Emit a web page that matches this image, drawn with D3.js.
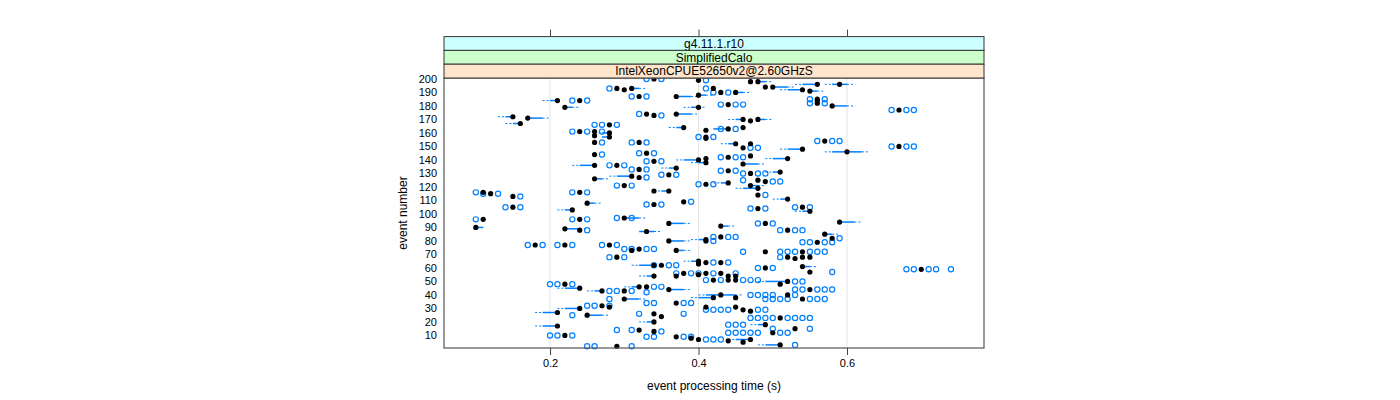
<!DOCTYPE html>
<html>
<head>
<meta charset="utf-8">
<script src="https://cdn.jsdelivr.net/npm/d3@7"></script>
<style>
  body { margin: 0; background: #fff; }
  svg text { font-family: "Liberation Sans", Arial, Helvetica, sans-serif; }
</style>
</head>
<body>
<div id="chart"></div>
<script>
// strip labels, outermost (top) first
const stripLabels = ["g4.11.1.r10", "SimplifiedCalo", "IntelXeonCPUE52650v2@2.60GHzS"]
const xTicks = [0.2, 0.4, 0.6]
const yTicks = [10, 20, 30, 40, 50, 60, 70, 80, 90, 100, 110, 120, 130, 140, 150, 160, 170, 180, 190, 200]

// [event, median time (s)]
const medianPts = [
  [200,.34],[199,.40],[198,.47],[198,.48],[196,.56],[196,.59],[194,.50],[194,.49],
  [193,.29],[192,.30],[193,.31],[193,.42],[192,.54],[191,.55],[190,.43],[190,.45],
  [187,.32],[187,.37],[188,.40],[185,.56],[184,.21],[184,.24],[184,.56],[182,.56],
  [181,.44],[180,.58],[179,.22],[179,.40],[177,.67],[174,.33],[173,.34],[174,.37],
  [172,.15],[171,.17],[170,.46],[169,.47],[170,.48],[167,.16],[166,.28],[164,.38],
  [164,.46],[163,.44],[162,.41],[161,.24],[161,.26],[160,.28],[158,.26],[157,.28],
  [157,.41],[156,.41],[154,.57],[153,.26],[153,.32],[152,.45],[152,.47],[150,.67],
  [149,.46],[148,.54],[146,.60],[145,.33],[144,.26],[143,.47],[142,.44],[141,.52],
  [140,.40],[141,.41],[139,.34],[138,.41],[137,.46],[136,.26],[136,.29],[134,.37],
  [133,.32],[132,.44],[131,.51],[130,.47],[129,.36],[128,.31],[127,.32],[126,.26],
  [125,.48],[124,.49],[123,.44],[122,.41],[121,.47],[121,.30],[119,.48],[117,.34],
  [117,.36],[116,.11],[115,.12],[116,.24],[114,.48],[113,.15],[111,.52],[109,.38],
  [108,.25],[107,.34],[105,.54],[105,.15],[104,.48],[103,.23],[102,.55],[97,.30],
  [96,.11],[96,.24],[94,.59],[93,.36],[93,.49],[91,.43],[90,.10],[89,.22],[88,.24],
  [88,.52],[87,.33],[85,.57],[83,.43],[82,.58],[81,.41],[80,.36],[80,.41],[79,.56],
  [77,.18],[77,.22],[77,.28],[74,.32],[73,.31],[73,.37],[72,.49],[72,.54],[68,.52],
  [68,.54],[68,.55],[68,.29],[67,.53],[65,.40],[64,.41],[64,.43],[63,.40],[62,.34],
  [62,.35],[61,.54],[60,.49],[59,.70],[57,.55],[56,.38],[56,.41],[56,.43],[55,.40],
  [54,.34],[54,.37],[54,.44],[54,.45],[51,.42],[51,.44],[51,.45],[50,.52],[48,.22],
  [48,.51],[46,.33],[46,.32],[45,.24],[44,.36],[44,.55],[43,.27],[43,.30],[40,.43],
  [40,.52],[38,.42],[38,.45],[37,.30],[37,.54],[34,.37],[32,.27],[31,.28],[31,.41],
  [31,.45],[30,.24],[29,.46],[28,.47],[27,.21],[26,.34],[25,.25],[24,.35],[23,.51],
  [20,.34],[18,.49],[17,.21],[15,.53],[14,.32],[13,.34],[12,.50],[10,.22],[9,.37],
  [8,.39],[7,.40],[7,.47],[6,.44],[5,.46],[3,.51],[2,.29]
]

// [event, whisker low, box low, box high, whisker high]
const boxRanges = [
  [198,.48,.48,.49,.50],[196,.53,.54,.56,.56],[196,.57,.58,.60,.61],[194,.50,.50,.52,.53],
  [193,.31,.31,.32,.33],[192,.51,.52,.54,.54],[191,.55,.55,.56,.57],[190,.45,.45,.46,.47],
  [187,.37,.37,.39,.40],[188,.40,.40,.41,.42],[184,.19,.20,.21,.21],[180,.58,.58,.60,.61],
  [179,.22,.22,.23,.24],[179,.38,.39,.40,.41],[174,.37,.37,.39,.40],[172,.13,.14,.15,.15],
  [171,.17,.17,.19,.20],[170,.44,.45,.46,.46],[170,.48,.48,.49,.50],[167,.14,.15,.16,.16],
  [164,.36,.37,.38,.38],[163,.42,.42,.44,.44],[160,.26,.27,.28,.28],[157,.27,.27,.28,.28],
  [152,.43,.44,.45,.45],[148,.51,.52,.54,.54],[146,.57,.58,.62,.63],[141,.49,.50,.52,.52],
  [140,.37,.38,.40,.40],[138,.39,.40,.41,.41],[137,.46,.46,.48,.49],[136,.23,.24,.26,.26],
  [134,.35,.36,.37,.37],[131,.49,.50,.51,.51],[128,.28,.29,.31,.31],[126,.26,.26,.27,.28],
  [123,.42,.43,.44,.44],[121,.47,.47,.48,.49],[119,.45,.46,.48,.48],[117,.34,.35,.36,.36],
  [111,.50,.51,.52,.52],[108,.25,.25,.26,.27],[103,.21,.22,.23,.23],[102,.53,.54,.55,.55],
  [97,.30,.30,.32,.33],[94,.59,.59,.61,.62],[93,.36,.36,.38,.39],[91,.43,.43,.44,.45],
  [90,.10,.10,.11,.11],[89,.22,.22,.24,.25],[87,.32,.32,.34,.35],[85,.57,.57,.58,.59],
  [81,.39,.40,.41,.41],[80,.36,.36,.38,.39],[73,.37,.37,.38,.39],[65,.38,.39,.40,.40],
  [62,.31,.32,.34,.34],[61,.54,.54,.55,.56],[54,.32,.33,.34,.34],[50,.48,.49,.52,.52],
  [46,.30,.31,.32,.32],[45,.21,.22,.24,.24],[44,.36,.36,.38,.39],[43,.25,.26,.27,.27],
  [40,.40,.41,.45,.46],[38,.39,.40,.42,.42],[37,.30,.30,.32,.33],[30,.21,.22,.24,.24],
  [27,.18,.19,.21,.21],[25,.25,.25,.27,.28],[20,.32,.33,.34,.34],[18,.47,.48,.49,.49],
  [17,.18,.19,.21,.21],[7,.44,.45,.47,.47],[3,.48,.49,.51,.51]
]

// [event, outlier times...]
const outlierPts = [
  [200,.33,.35],[199,.41],[193,.28],[193,.41],[190,.42,.44],[187,.31,.33],[185,.55,.57],
  [184,.23,.25],[182,.55,.57],[181,.43,.45,.46],[177,.66,.68,.69],[174,.32],[173,.35],
  [166,.26,.27,.29],[163,.43,.45],[161,.23,.25],[161,.27],[157,.40,.42],[154,.56,.58,.59],
  [153,.27],[153,.31,.33],[150,.66,.68,.69],[149,.47,.48],[145,.32,.34],[144,.27],
  [142,.43,.45,.46],[139,.33,.35],[136,.28,.30],[133,.31,.33],[132,.43,.45],[130,.46,.48,.49],
  [129,.35,.37],[127,.33],[125,.46],[124,.50,.51],[122,.40,.42],[121,.29,.31],[116,.10],
  [115,.11,.13],[116,.23,.25],[114,.49],[113,.16],[109,.39],[107,.33,.35],[105,.53,.55],
  [105,.14,.16],[104,.47,.49],[97,.29,.31],[96,.10],[96,.23,.25],[93,.48,.50],[88,.25],
  [88,.51,.53,.54],[83,.42,.44,.45],[82,.59],[80,.42],[79,.54,.55,.57,.58],[77,.17,.19],
  [77,.21,.23],[77,.27,.29],[74,.30,.31,.33,.34],[72,.46],[72,.51,.52,.53,.55,.56,.57],
  [68,.51],[68,.28,.30],[64,.42,.44],[62,.34,.36,.37],[60,.48,.50],[59,.68,.69,.71,.72,.74],
  [57,.58],[56,.37,.39,.40],[56,.42,.45],[51,.41,.43],[51,.46,.47,.48],[50,.53,.54],
  [48,.20,.21,.23],[46,.34,.35],[44,.53,.54,.56,.57,.58],[43,.28,.29,.31],[42,.33],[40,.47],
  [40,.48,.49,.50,.53],[37,.28],[37,.49,.50,.51,.52,.55,.56,.57],[34,.33,.34,.38,.39],
  [32,.25,.26,.28],[29,.41,.42,.43,.44,.48,.49],[26,.32,.38],[25,.23],
  [23,.47,.48,.49,.50,.52,.53,.54,.55],[18,.44,.45,.46],[15,.50,.55],[14,.29,.31],[13,.35],
  [12,.44,.45,.46,.47,.48,.51,.52],[10,.20,.21,.23],[9,.33,.34,.38,.39],[7,.41,.42,.43],
  [3,.53],[2,.25,.26,.31]
]

const xLabel = "event processing time (s)"
const yLabel = "event number"

const width = 1400
const height = 400
const panel = { left: 444, right: 984, top: 78, bottom: 348 }
const stripH = 13.8
const stripColors = ["#ccffff", "#ccffcc", "#ffe5cc"]
const blue = "#0080ff"

const svg = d3.select("#chart").append("svg")
  .attr("width", width)
  .attr("height", height)

const x = d3.scaleLinear().domain([0.0572, 0.7845]).range([panel.left, panel.right])
const y = d3.scaleLinear().domain([0.7, 200.7]).range([panel.bottom, panel.top])

// vertical reference lines
svg.append("g")
  .selectAll("line")
  .data(xTicks)
  .join("line")
  .attr("x1", d => x(d)).attr("x2", d => x(d))
  .attr("y1", panel.top).attr("y2", panel.bottom)
  .attr("stroke", "#e6e6e6")

// box + whiskers
const bw = svg.append("g").attr("class", "boxes")
bw.selectAll("line.whisk-lo")
  .data(boxRanges)
  .join("line")
  .attr("x1", d => x(d[1])).attr("x2", d => x(d[2]))
  .attr("y1", d => y(d[0])).attr("y2", d => y(d[0]))
  .attr("stroke", blue).attr("stroke-width", 1).attr("stroke-dasharray", "2,2")
bw.selectAll("line.whisk-hi")
  .data(boxRanges)
  .join("line")
  .attr("x1", d => x(d[3])).attr("x2", d => x(d[4]))
  .attr("y1", d => y(d[0])).attr("y2", d => y(d[0]))
  .attr("stroke", blue).attr("stroke-width", 1).attr("stroke-dasharray", "2,2")
bw.selectAll("rect")
  .data(boxRanges)
  .join("rect")
  .attr("x", d => x(d[2]))
  .attr("width", d => Math.max(0.5, x(d[3]) - x(d[2])))
  .attr("y", d => y(d[0]) - 0.75)
  .attr("height", 1.5)
  .attr("fill", blue)

// outliers
const outFlat = outlierPts.flatMap(r => r.slice(1).map(t => ({ ev: r[0], t })))
svg.append("g")
  .selectAll("circle")
  .data(outFlat)
  .join("circle")
  .attr("cx", d => x(d.t))
  .attr("cy", d => y(d.ev))
  .attr("r", 2.6)
  .attr("fill", "none")
  .attr("stroke", blue)
  .attr("stroke-width", 1.2)

// medians
svg.append("g")
  .selectAll("circle")
  .data(medianPts)
  .join("circle")
  .attr("cx", d => x(d[1]))
  .attr("cy", d => y(d[0]))
  .attr("r", 2.6)
  .attr("fill", "#000")

// panel border
svg.append("rect")
  .attr("x", panel.left).attr("y", panel.top)
  .attr("width", panel.right - panel.left).attr("height", panel.bottom - panel.top)
  .attr("fill", "none").attr("stroke", "#555").attr("stroke-width", 1.2)

// strips
const strips = svg.append("g").attr("class", "strips")
stripLabels.forEach((lab, i) => {
  const y0 = panel.top - stripH * (stripLabels.length - i)
  strips.append("rect")
    .attr("x", panel.left).attr("y", y0)
    .attr("width", panel.right - panel.left).attr("height", stripH)
    .attr("fill", stripColors[i]).attr("stroke", "#333").attr("stroke-width", 1)
  strips.append("text")
    .attr("x", (panel.left + panel.right) / 2)
    .attr("y", y0 + stripH / 2)
    .attr("dy", "0.36em")
    .attr("text-anchor", "middle")
    .style("font-size", "12px")
    .text(lab)
})

// axes
const xAxis = svg.append("g")
  .attr("transform", `translate(0,${panel.bottom})`)
  .call(d3.axisBottom(x).tickValues(xTicks).tickFormat(d3.format(".1f")).tickSize(7).tickPadding(4))
xAxis.select(".domain").remove()
xAxis.selectAll("text").style("font-size", "11px").attr("fill", "#000")
xAxis.selectAll("line").attr("stroke", "#444")

const topAxis = svg.append("g")
  .attr("transform", `translate(0,${panel.top - stripH * stripLabels.length})`)
  .call(d3.axisTop(x).tickValues(xTicks).tickFormat("").tickSize(7))
topAxis.select(".domain").remove()
topAxis.selectAll("line").attr("stroke", "#444")

const yAxis = svg.append("g")
  .attr("transform", `translate(${panel.left},0)`)
  .call(d3.axisLeft(y).tickValues(yTicks).tickSize(0).tickPadding(7))
yAxis.select(".domain").remove()
yAxis.selectAll("text").style("font-size", "11px").attr("fill", "#000")

// axis titles
svg.append("text")
  .attr("x", (panel.left + panel.right) / 2)
  .attr("y", 390)
  .attr("text-anchor", "middle")
  .style("font-size", "12px")
  .text(xLabel)

svg.append("text")
  .attr("transform", `translate(407,${(panel.top + panel.bottom) / 2}) rotate(-90)`)
  .attr("text-anchor", "middle")
  .style("font-size", "12px")
  .text(yLabel)
</script>
</body>
</html>
